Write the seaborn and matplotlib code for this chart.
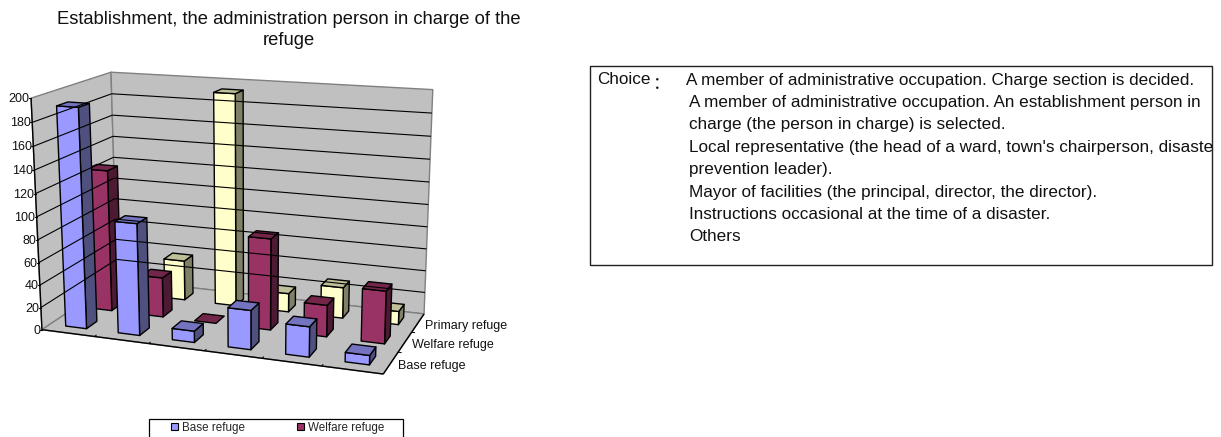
import matplotlib
matplotlib.use('Agg')
import matplotlib.pyplot as plt
from matplotlib.patches import Patch, Rectangle
import numpy as np
import seaborn as sns

title = "Establishment, the administration person in charge of the\nrefuge"
series = ["Base refuge", "Welfare refuge", "Primary refuge"]
base_refuge = [192, 98, 10, 34, 26, 8]
welfare_refuge = [128, 36, 0, 81, 28, 46]
primary_refuge = [0, 37, 193, 17, 28, 12]
y_ticks = [0, 20, 40, 60, 80, 100, 120, 140, 160, 180, 200]
legend_series = ["Base refuge", "Welfare refuge"]
choice_label = "Choice"
choice_colon = "："
choices = [
    "A member of administrative occupation. Charge section is decided.",
    "A member of administrative occupation. An establishment person in",
    "charge (the person in charge) is selected.",
    "Local representative (the head of a ward, town's chairperson, disaster",
    "prevention leader).",
    "Mayor of facilities (the principal, director, the director).",
    "Instructions occasional at the time of a disaster.",
    "Others",
]

front = ["#9999FF", "#993366", "#FFFFCC"]
side = ["#50507F", "#4D1A33", "#808066"]
top = ["#7373BF", "#732649", "#BFBF99"]

sns.set_theme(style="white", font="Liberation Sans")

# camera fitted on the corners of the chart box, in reference pixels
world = np.array([[0, 0, 0], [0, 0, 200], [0, 3, 200], [0, 3, 0], [6, 3, 200], [6, 3, 0], [6, 0, 0],
                  [1, 0, 0], [2, 0, 0], [3, 0, 0], [4, 0, 0], [5, 0, 0]], dtype=float)
image = np.array([[42, 329], [32, 98], [110, 72], [118, 280], [433, 90], [424, 313], [383, 374],
                  [94, 336], [148, 344], [204, 351], [263, 359], [322, 366]], dtype=float)
rows = []
for (wx, wy, wz), (ix, iy) in zip(world, image):
    w = [wx, wy, wz / 100, 1]
    rows.append(w + [0, 0, 0, 0] + [-ix * v for v in w])
    rows.append([0, 0, 0, 0] + w + [-iy * v for v in w])
camera = np.linalg.svd(np.array(rows))[2][-1].reshape(3, 4)


def project(x, y, z):
    p = camera @ np.array([x, y, z / 100, 1])
    return p[0] / p[2], p[1] / p[2]


def face(ax, corners, color, edge="black", lw=1.0):
    pts = [project(*c) for c in corners]
    ax.fill([p[0] for p in pts], [p[1] for p in pts], facecolor=color, edgecolor=edge, linewidth=lw, joinstyle="round")


def line(ax, a, b, color="black", lw=0.8):
    pa, pb = project(*a), project(*b)
    ax.plot([pa[0], pb[0]], [pa[1], pb[1]], color=color, linewidth=lw, solid_capstyle="butt")


def bar(ax, cat, depth, value, idx):
    x0, x1 = cat + 0.3, cat + 0.7
    y0, y1 = depth + 0.3, depth + 0.7
    if value > 0:
        face(ax, [(x1, y0, 0), (x1, y1, 0), (x1, y1, value), (x1, y0, value)], side[idx])
        face(ax, [(x0, y0, 0), (x1, y0, 0), (x1, y0, value), (x0, y0, value)], front[idx])
    face(ax, [(x0, y0, value), (x1, y0, value), (x1, y1, value), (x0, y1, value)], top[idx])


fig = plt.figure(figsize=(12.21, 4.37), dpi=100)
ax = fig.add_axes([0, 0, 1, 1])
ax.set_xlim(0, 1221)
ax.set_ylim(437, 0)
ax.axis("off")

# walls and floor
face(ax, [(0, 0, 0), (0, 3, 0), (0, 3, 200), (0, 0, 200)], "#C0C0C0", "#808080", 1.0)
face(ax, [(0, 3, 0), (6, 3, 0), (6, 3, 200), (0, 3, 200)], "#C0C0C0", "#808080", 1.0)
face(ax, [(0, 0, 0), (6, 0, 0), (6, 3, 0), (0, 3, 0)], "#C0C0C0", "#808080", 1.0)

for t in y_ticks[1:-1]:
    line(ax, (0, 0, t), (0, 3, t))
    line(ax, (0, 3, t), (6, 3, t))
line(ax, (0, 0, 0), (0, 0, 200), lw=1.0)
line(ax, (0, 0, 0), (6, 0, 0), lw=1.0)
line(ax, (6, 0, 0), (6, 3, 0), lw=1.0)

for t in y_ticks:
    px, py = project(0, 0, t)
    ax.plot([px - 2, px], [py, py], color="black", linewidth=0.8)
    ax.text(px - 1.5, py + 1, str(t), ha="right", va="center", fontsize=9, color="#111111")
for c in range(1, 6):
    line(ax, (c, 0, 0), (c, 0.08, 0), lw=0.7)
for d in range(1, 3):
    line(ax, (6, d, 0), (6.06, d, 0), lw=0.7)

for d, label in enumerate(series):
    px, py = project(6, d + 0.5, 0)
    ax.text(px + 7, py + 3, label, ha="left", va="center", fontsize=9, color="#111111")

# bars, back row first
values = [base_refuge, welfare_refuge, primary_refuge]
for d in [2, 1, 0]:
    for c in range(6):
        bar(ax, c, d, values[d][c], d)

ax.text(288.5, 30, title, ha="center", va="center", fontsize=13.2, color="#111111", linespacing=1.25)

# legend, its lower edge runs off the picture
ax.add_patch(Rectangle((149, 419), 254, 30, facecolor="white", edgecolor="black", linewidth=0.9))
ax.legend(handles=[Patch(facecolor=front[i], edgecolor="black", linewidth=0.8, label=legend_series[i]) for i in range(2)],
          ncol=2, loc="upper left", bbox_to_anchor=(169, 419.5), bbox_transform=ax.transData, frameon=False,
          fontsize=8.4, handlelength=0.6, handleheight=0.6, handletextpad=0.35, columnspacing=4.4,
          borderpad=0.2, borderaxespad=0)

# choices box
box = Rectangle((590, 66), 622, 199, facecolor="white", edgecolor="#222222", linewidth=1.0)
ax.add_patch(box)
ax.text(597, 80, choice_label, ha="left", va="center", fontsize=12.3, color="#111111")
ax.text(653, 84, choice_colon, ha="left", va="center", fontsize=12.3, color="#111111", family="Noto Sans CJK SC")
for n, text in enumerate(choices):
    t = ax.text(686 if n == 0 else 689, 80 + n * 22.4, text, ha="left", va="center", fontsize=12.3, color="#111111")
    t.set_clip_path(box)
    t.set_clip_on(True)

fig.savefig("out.png", dpi=100)
